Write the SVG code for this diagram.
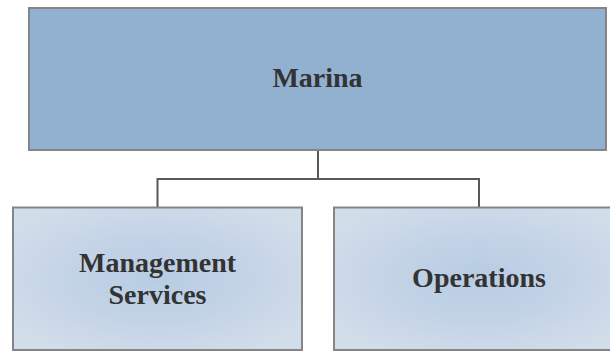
<svg xmlns="http://www.w3.org/2000/svg" width="610" height="352" viewBox="0 0 610 352">
<defs>
<radialGradient id="g" cx="0.5" cy="0.5" r="0.6">
<stop offset="0" stop-color="#b7cce3"/>
<stop offset="0.6" stop-color="#c6d5e7"/>
<stop offset="1" stop-color="#d2ddea"/>
</radialGradient>
<style>
.box{stroke:#858585;stroke-width:2}
.top{fill:#92b1d1}
.sub{fill:url(#g)}
.lbl{font-family:"Liberation Serif","Times New Roman",serif;font-weight:bold;font-size:28px;fill:#333;text-anchor:middle}
.con{stroke:#595959;stroke-width:2;fill:none}
</style>
</defs>
<g id="connectors">
<path class="con" d="M318 151 V179 M157.5 179 H479 M157.5 178 V207 M479 178 V207"/>
</g>
<g id="marina">
<rect class="box top" x="29" y="8" width="577" height="142"/>
<text class="lbl" x="317.5" y="87.3">Marina</text>
</g>
<g id="management-services">
<rect class="box sub" x="13" y="207.5" width="289" height="142.5"/>
<text class="lbl" x="157.5" y="272.3">Management</text>
<text class="lbl" x="157.5" y="304">Services</text>
</g>
<g id="operations">
<rect class="box sub" x="334" y="207.5" width="290" height="142.5"/>
<text class="lbl" x="479" y="287.3">Operations</text>
</g>
</svg>
